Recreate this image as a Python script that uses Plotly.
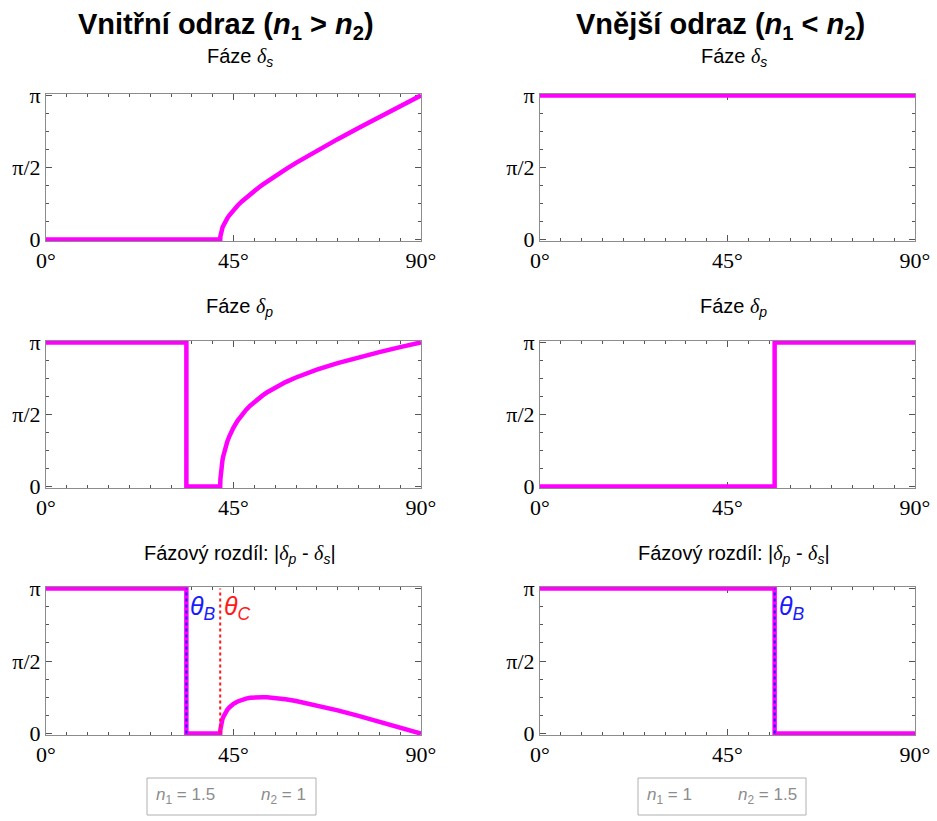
import plotly.graph_objects as go
import math

PI = math.pi

# ---------------- data (angles in degrees, phases in radians) ----------------
theta_B_int = 33.69   # Brewster angle, n1=1.5 -> n2=1
theta_C_int = 41.81   # critical angle, n1=1.5 -> n2=1
theta_B_ext = 56.31   # Brewster angle, n1=1 -> n2=1.5

# angles above the critical angle (internal reflection)
tir_angles = [41.81, 41.85, 41.9, 42.0, 42.05, 42.2, 42.35, 42.5, 42.75, 43.0, 43.5, 44.0,
              44.5, 45.0, 46.0, 47.0, 48.0, 49.0, 50.0, 51.0, 52.0, 53.0, 55.0, 57.5,
              60.0, 65.0, 70.0, 75.0, 80.0, 85.0, 90.0]
tir_delta_s = [0.0, 0.071, 0.106, 0.154, 0.173, 0.222, 0.261, 0.295, 0.345, 0.388, 0.464, 0.530,
               0.590, 0.644, 0.743, 0.831, 0.913, 0.989, 1.062, 1.131, 1.198, 1.262, 1.386, 1.532,
               1.671, 1.936, 2.188, 2.433, 2.671, 2.907, 3.1416]
tir_delta_p = [0.0, 0.159, 0.238, 0.344, 0.386, 0.491, 0.574, 0.645, 0.746, 0.833, 0.978, 1.096,
               1.198, 1.287, 1.438, 1.563, 1.670, 1.763, 1.846, 1.920, 1.987, 2.049, 2.158, 2.276,
               2.377, 2.548, 2.690, 2.815, 2.930, 3.037, 3.1416]
tir_diff = [0.0, 0.088, 0.132, 0.190, 0.213, 0.269, 0.313, 0.350, 0.402, 0.445, 0.514, 0.566,
            0.608, 0.643, 0.695, 0.732, 0.757, 0.774, 0.784, 0.789, 0.789, 0.786, 0.772, 0.744,
            0.706, 0.612, 0.502, 0.382, 0.259, 0.130, 0.0]

ytick_vals = [0, PI / 2, PI]
ytick_text = ["0", "π/2", "π"]
xtick_vals = [0, 45, 90]
xtick_text = ["0°", "45°", "90°"]

DELTA = '<span style="font-family:Liberation Serif"><i>δ</i></span>'
titles_col = ["<b>Vnitřní odraz (<i>n</i><sub>1</sub> > <i>n</i><sub>2</sub>)</b>",
              "<b>Vnější odraz (<i>n</i><sub>1</sub> < <i>n</i><sub>2</sub>)</b>"]
titles_row = [f"Fáze {DELTA}<sub><i>s</i></sub>",
              f"Fáze {DELTA}<sub><i>p</i></sub>",
              f"Fázový rozdíl: |{DELTA}<sub><i>p</i></sub> - {DELTA}<sub><i>s</i></sub>|"]

# ---------------- layout geometry ----------------
W, H = 937, 821
col_px = [(46, 421), (540, 915)]
row_px = [(94, 241), (341, 488), (587, 735)]
MAG = "#FF00FF"

fig = go.Figure()

def ax_id(r, c):
    return r * 2 + c + 1

def add(r, c, x, y, color=MAG, width=4.5, dash=None):
    i = ax_id(r, c)
    fig.add_trace(go.Scatter(x=x, y=y, mode="lines",
                             line=dict(color=color, width=width, dash=dash),
                             xaxis="x" if i == 1 else f"x{i}",
                             yaxis="y" if i == 1 else f"y{i}",
                             showlegend=False, hoverinfo="skip"))

# internal reflection (left column)
add(0, 0, [0] + tir_angles, [0] + tir_delta_s)
add(1, 0, [0, theta_B_int, theta_B_int, theta_C_int] + tir_angles[1:],
    [PI, PI, 0, 0] + tir_delta_p[1:])
add(2, 0, [0, theta_B_int, theta_B_int, theta_C_int] + tir_angles[1:],
    [PI, PI, 0, 0] + tir_diff[1:])
add(2, 0, [theta_B_int, theta_B_int], [0, PI], color="#1a1aff", width=2, dash="dot")
add(2, 0, [theta_C_int, theta_C_int], [0, PI], color="#ff1a1a", width=2, dash="dot")

# external reflection (right column)
add(0, 1, [0, 90], [PI, PI])
add(1, 1, [0, theta_B_ext, theta_B_ext, 90], [0, 0, PI, PI])
add(2, 1, [0, theta_B_ext, theta_B_ext, 90], [PI, PI, 0, 0])
add(2, 1, [theta_B_ext, theta_B_ext], [0, PI], color="#1a1aff", width=2, dash="dot")

layout = dict(width=W, height=H, margin=dict(l=0, r=0, t=0, b=0, autoexpand=False),
              plot_bgcolor="white", paper_bgcolor="white", showlegend=False)

FRAME = "#8c8c8c"
for r in range(3):
    for c in range(2):
        i = ax_id(r, c)
        xs = "xaxis" if i == 1 else f"xaxis{i}"
        ys = "yaxis" if i == 1 else f"yaxis{i}"
        xa = "x" if i == 1 else f"x{i}"
        ya = "y" if i == 1 else f"y{i}"
        x0, x1 = col_px[c]
        y0, y1 = row_px[r]
        layout[xs] = dict(domain=[x0 / W, x1 / W], range=[0, 90], anchor=ya, automargin=False,
                          tickvals=xtick_vals, ticktext=xtick_text, layer="below traces",
                          ticks="inside", ticklen=6, tickcolor="#555", tickwidth=1,
                          minor=dict(dtick=5, tick0=0, ticks="inside", ticklen=3,
                                     tickcolor="#555", tickwidth=1, showgrid=False),
                          showline=True, linecolor=FRAME, linewidth=1, mirror="allticks",
                          showgrid=False, zeroline=False, fixedrange=True,
                          tickfont=dict(family="Liberation Serif", size=22, color="black"))
        layout[ys] = dict(domain=[1 - y1 / H, 1 - y0 / H], range=[-0.03, PI + 0.03], anchor=xa,
                          automargin=False, layer="below traces",
                          tickvals=ytick_vals, ticktext=ytick_text,
                          ticks="inside", ticklen=6, tickcolor="#555", tickwidth=1,
                          minor=dict(dtick=PI / 8, tick0=0, ticks="inside", ticklen=3,
                                     tickcolor="#555", tickwidth=1, showgrid=False),
                          showline=True, linecolor=FRAME, linewidth=1, mirror="allticks",
                          showgrid=False, zeroline=False, fixedrange=True,
                          tickfont=dict(family="Liberation Serif", size=22, color="black"))

annotations = []
# column titles
for c, cx in enumerate([226, 720]):
    annotations.append(dict(text=titles_col[c], x=cx / W, y=1 - 26 / H, xref="paper", yref="paper",
                            showarrow=False, xanchor="center", yanchor="middle",
                            font=dict(family="Liberation Sans", size=29, color="black")))
# row titles
row_title_y = [58, 307, 554]
for c in range(2):
    cx = (col_px[c][0] + col_px[c][1]) / 2 + 6
    for r in range(3):
        annotations.append(dict(text=titles_row[r], x=cx / W, y=1 - row_title_y[r] / H,
                                xref="paper", yref="paper", showarrow=False,
                                xanchor="center", yanchor="middle",
                                font=dict(family="Liberation Sans", size=20, color="black")))

# angle labels
def angle_label(text, x, axis_i, color):
    annotations.append(dict(text=text, x=x, y=PI, xref=f"x{axis_i}", yref=f"y{axis_i}",
                            showarrow=False, xanchor="left", yanchor="top", xshift=2, yshift=-2,
                            font=dict(family="Liberation Sans", size=25, color=color)))

angle_label("<i>θ</i><sub><i>B</i></sub>", theta_B_int, 5, "#1a1aff")
angle_label("<i>θ</i><sub><i>C</i></sub>", theta_C_int, 5, "#ff1a1a")
angle_label("<i>θ</i><sub><i>B</i></sub>", theta_B_ext, 6, "#1a1aff")

# legend boxes
shapes = []
boxes = [((147, 316), [("<i>n</i><sub>1</sub> = 1.5", 185), ("<i>n</i><sub>2</sub> = 1", 283)]),
         ((638, 806), [("<i>n</i><sub>1</sub> = 1", 669), ("<i>n</i><sub>2</sub> = 1.5", 767)])]
for (bx0, bx1), items in boxes:
    shapes.append(dict(type="rect", xref="paper", yref="paper",
                       x0=bx0 / W, x1=bx1 / W, y0=1 - 815 / H, y1=1 - 778 / H,
                       line=dict(color="#b0b0b0", width=1), fillcolor="white"))
    for txt, tx in items:
        annotations.append(dict(text=txt, x=tx / W, y=1 - 796 / H, xref="paper", yref="paper",
                                showarrow=False, xanchor="center", yanchor="middle",
                                font=dict(family="Liberation Sans", size=17, color="#8c8c8c")))

layout["annotations"] = annotations
layout["shapes"] = shapes
fig.update_layout(**layout)
fig.write_html("out.html")
